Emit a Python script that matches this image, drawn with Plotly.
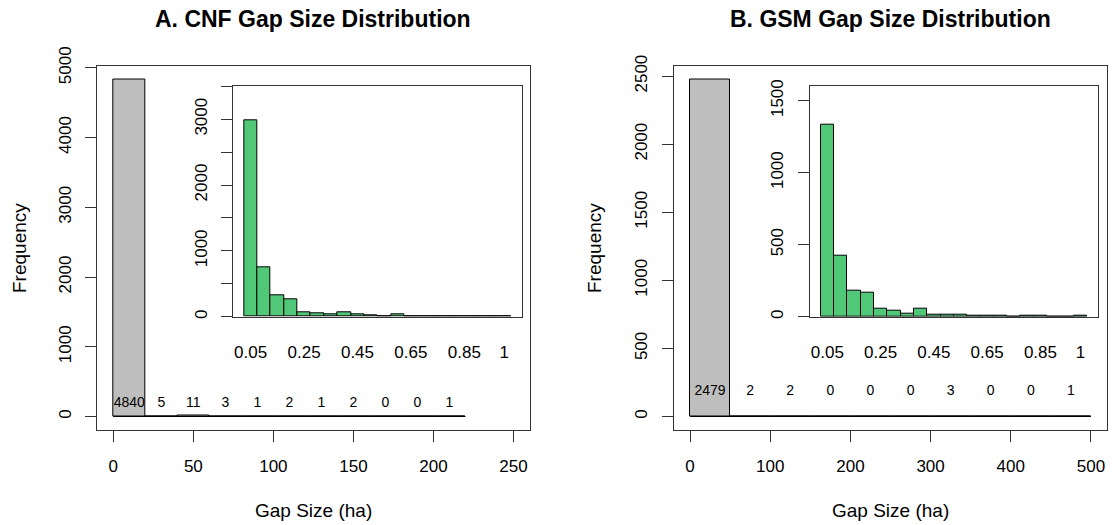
import numpy as np
import plotly.graph_objects as go

# ---------------- data ----------------
a_title = "A. CNF Gap Size Distribution"
b_title = "B. GSM Gap Size Distribution"
x_label = "Gap Size (ha)"
y_label = "Frequency"

# main histograms (bins start at 0)
a_main_bin_width = 20
a_main_counts = [4840, 5, 11, 3, 1, 2, 1, 2, 0, 0, 1]
b_main_bin_width = 50
b_main_counts = [2479, 2, 2, 0, 0, 0, 3, 0, 0, 1]

# inset histograms, 0-1 ha in 0.05 ha bins
inset_bin_width = 0.05
a_inset_counts = [2990, 752, 320, 264, 61, 46, 36, 66, 30, 22, 12, 36, 8, 2, 4, 4, 4, 3, 1, 3]
b_inset_counts = [1331, 424, 178, 164, 56, 42, 23, 53, 14, 14, 16, 9, 7, 5, 2, 4, 4, 2, 3, 6]
inset_tick_bins = [1, 5, 9, 13, 17, 20]
inset_tick_text = ["0.05", "0.25", "0.45", "0.65", "0.85", "1"]

a_main_xticks = [0, 50, 100, 150, 200, 250]
a_main_yticks = [0, 1000, 2000, 3000, 4000, 5000]
b_main_xticks = [0, 100, 200, 300, 400, 500]
b_main_yticks = [0, 500, 1000, 1500, 2000, 2500]
a_inset_yticks = [0, 500, 1000, 1500, 2000, 2500, 3000, 3500]
a_inset_ylabels = ["0", "", "1000", "", "2000", "", "3000", ""]
b_inset_yticks = [0, 500, 1000, 1500]
b_inset_ylabels = ["0", "500", "1000", "1500"]

# ---------------- styling ----------------
W, H = 1112, 525
FONT = "Liberation Sans, Arial, sans-serif"
LINE = "#333333"
GRAY = "#BEBEBE"
GREEN = "#50C878"


def px(x):
    return x / W


def py(y):
    return 1 - y / H


fig = go.Figure()


def main_hist(counts, width, xa, ya):
    n = len(counts)
    edges = np.arange(n + 1) * width
    centers = (edges[:-1] + edges[1:]) / 2
    fig.add_trace(go.Bar(x=centers, y=counts, width=width, xaxis=xa, yaxis=ya,
                         marker=dict(color=[GRAY] + ["white"] * (n - 1),
                                     line=dict(color="black", width=1)),
                         showlegend=False, hoverinfo="x+y"))
    fig.add_trace(go.Scatter(x=[edges[0], edges[-1]], y=[0, 0], mode="lines",
                             line=dict(color="black", width=1), xaxis=xa, yaxis=ya,
                             showlegend=False, hoverinfo="skip"))
    return centers


def inset_hist(counts, xa, ya):
    n = len(counts)
    edges = np.arange(n + 1) * inset_bin_width
    centers = (edges[:-1] + edges[1:]) / 2
    fig.add_trace(go.Bar(x=centers, y=counts, width=inset_bin_width, xaxis=xa, yaxis=ya,
                         marker=dict(color=GREEN, line=dict(color="black", width=1)),
                         showlegend=False))
    return centers


a_centers = main_hist(a_main_counts, a_main_bin_width, "x", "y")
a_in_centers = inset_hist(a_inset_counts, "x2", "y2")
b_centers = main_hist(b_main_counts, b_main_bin_width, "x3", "y3")
b_in_centers = inset_hist(b_inset_counts, "x4", "y4")

# count labels above main bins
for centers, counts, xa, ya in [(a_centers, a_main_counts, "x", "y"),
                                (b_centers, b_main_counts, "x3", "y3")]:
    fig.add_trace(go.Scatter(x=centers, y=[180] * len(counts), mode="text",
                             text=[str(c) for c in counts],
                             textfont=dict(size=14, color="black", family=FONT),
                             xaxis=xa, yaxis=ya, showlegend=False, hoverinfo="skip",
                             cliponaxis=False))

axis_common = dict(showline=True, mirror=True, linecolor=LINE, linewidth=1,
                   ticks="outside", ticklen=11, tickcolor=LINE, tickwidth=1,
                   showgrid=False, zeroline=False, automargin=False,
                   tickfont=dict(size=17, color="black", family=FONT))

fig.update_layout(
    template="none",
    width=W, height=H,
    margin=dict(l=0, r=0, t=0, b=0, pad=0, autoexpand=False),
    paper_bgcolor="white", plot_bgcolor="rgba(0,0,0,0)",
    font=dict(family=FONT, color="black"),
    bargap=0,
    xaxis=dict(domain=[px(97.3), px(529.5)], range=[-10, 260], anchor="y",
               tickvals=a_main_xticks, ticklabelstandoff=10, **axis_common),
    yaxis=dict(domain=[py(430), py(65.5)], range=[-193.6, 5033.6], anchor="x",
               tickvals=a_main_yticks, tickangle=-90, ticklabelstandoff=8, **axis_common),
    xaxis2=dict(domain=[px(233.3), px(521.7)], range=[-0.04, 1.04], anchor="y2",
                tickvals=[a_in_centers[i - 1] for i in inset_tick_bins], ticktext=inset_tick_text,
                **{**axis_common, "ticks": ""}, ticklabelstandoff=20),
    yaxis2=dict(domain=[py(316.7), py(86.3)], range=[0, 3500], anchor="x2",
                tickvals=a_inset_yticks, ticktext=a_inset_ylabels, tickangle=-90,
                ticklabelstandoff=8, **axis_common),
    xaxis3=dict(domain=[px(674), px(1107)], range=[-20, 520], anchor="y3",
                tickvals=b_main_xticks, ticklabelstandoff=10, **axis_common),
    yaxis3=dict(domain=[py(430), py(65.5)], range=[-99.16, 2578.16], anchor="x3",
                tickvals=b_main_yticks, tickangle=-90, ticklabelstandoff=8, **axis_common),
    xaxis4=dict(domain=[px(810), px(1097.7)], range=[-0.04, 1.04], anchor="y4",
                tickvals=[b_in_centers[i - 1] for i in inset_tick_bins], ticktext=inset_tick_text,
                **{**axis_common, "ticks": ""}, ticklabelstandoff=20),
    yaxis4=dict(domain=[py(316.7), py(85.7)], range=[0, 1604], anchor="x4",
                tickvals=b_inset_yticks, ticktext=b_inset_ylabels, tickangle=-90,
                ticklabelstandoff=8, **axis_common),
)

annots = []
for title, cx in [(a_title, 313.4), (b_title, 890.5)]:
    annots.append(dict(text="<b>" + title + "</b>", x=px(cx), y=py(18.7), xref="paper", yref="paper",
                       showarrow=False, xanchor="center", yanchor="middle",
                       font=dict(size=23, color="black", family=FONT)))
for cx in [313.4, 890.5]:
    annots.append(dict(text=x_label, x=px(cx), y=py(510), xref="paper", yref="paper",
                       showarrow=False, xanchor="center", yanchor="middle",
                       font=dict(size=19, color="black", family=FONT)))
for cx in [20, 595]:
    annots.append(dict(text=y_label, x=px(cx), y=py(248), xref="paper", yref="paper",
                       showarrow=False, xanchor="center", yanchor="middle", textangle=-90,
                       font=dict(size=19, color="black", family=FONT)))
fig.update_layout(annotations=annots)

fig.write_html("out.html")
